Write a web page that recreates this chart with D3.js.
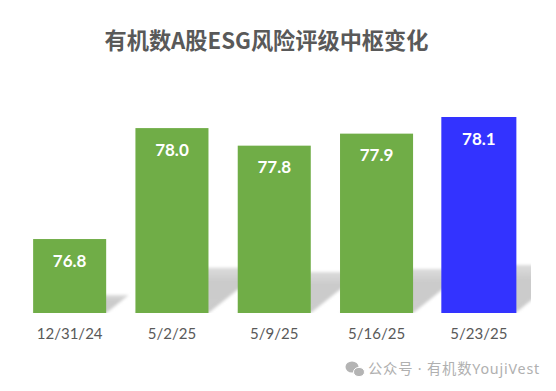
<!DOCTYPE html>
<html><head><meta charset="utf-8">
<script src="https://cdn.jsdelivr.net/npm/d3@7/dist/d3.min.js"></script>
<style>html,body{margin:0;padding:0;background:#fff}svg{display:block}</style>
</head><body><div id="c"></div>
<script>
const categories = ["12/31/24","5/2/25","5/9/25","5/16/25","5/23/25"];
const values = [76.8, 78.0, 77.81, 77.94, 78.12];
const highlighted = ["5/23/25"];
const chartTitle = "有机数A股ESG风险评级中枢变化";
const watermark = "公众号 · 有机数YoujiVest";

const W=556,H=391, base=313;
const x=d3.scaleBand().domain(categories).range([18.5,530]).paddingInner(0.286).paddingOuter(0.143);
const y=d3.scaleLinear().domain([76,78.12]).range([base,117]);
const svg=d3.select("#c").append("svg").attr("width",W).attr("height",H).attr("viewBox",`0 0 ${W} ${H}`);
svg.append("rect").attr("width",W).attr("height",H).attr("fill","#fff");
const defs=svg.append("defs");
const f=defs.append("filter").attr("id","blur").attr("x","-20%").attr("y","-20%").attr("width","140%").attr("height","140%");
f.append("feGaussianBlur").attr("stdDeviation",1.5);
defs.append("clipPath").attr("id","clipS").append("rect").attr("x",0).attr("y",0).attr("width",531).attr("height",base).attr("rx",4);
const g=defs.append("linearGradient").attr("id","sg").attr("x1",0).attr("y1",0).attr("x2",0).attr("y2",1);
g.append("stop").attr("offset","0").attr("stop-color","#dcdcdc");
g.append("stop").attr("offset","0.3").attr("stop-color","#cbcbcb");
g.append("stop").attr("offset","1").attr("stop-color","#cccccc");

svg.append("text").attr("x",266.5).attr("y",48.5).attr("text-anchor","middle")
 .attr("font-family","'Noto Sans CJK SC'").attr("font-weight",700).attr("font-size",22.2)
 .attr("fill","#595959").text(chartTitle);

const shadowLayer=svg.append("g").attr("clip-path","url(#clipS)");
shadowLayer.selectAll("path").data(categories).join("path")
 .attr("filter","url(#blur)").attr("fill","url(#sg)")
 .attr("d",(c,i)=>{
   const h=base-y(values[i]), sh=h*0.245, dx=sh*1.25, l=x(c), r=l+x.bandwidth();
   return `M${l},${base}L${r},${base}L${r+dx},${base-sh}L${l+dx},${base-sh}Z`;
 });

svg.selectAll("rect.bar").data(categories).join("rect").attr("class","bar")
 .attr("x",c=>x(c)-(highlighted.includes(c)?1:0))
 .attr("width",c=>x.bandwidth()+(highlighted.includes(c)?2:0))
 .attr("y",(c,i)=>y(values[i])).attr("height",(c,i)=>base-y(values[i]))
 .attr("fill",c=>highlighted.includes(c)?"#3333ff":"#70ad47");

svg.selectAll("text.val").data(categories).join("text").attr("class","val")
 .attr("x",c=>x(c)+x.bandwidth()/2).attr("y",(c,i)=>y(values[i])+27.5)
 .attr("text-anchor","middle").attr("font-family","Lato").attr("font-weight",700).attr("font-size",17)
 .attr("fill","#fff").text((c,i)=>d3.format(".1f")(values[i]));

const axis=svg.append("g").attr("transform",`translate(0,${base})`)
 .call(d3.axisBottom(x).tickSize(0).tickPadding(15));
axis.select(".domain").remove();
axis.selectAll("text").attr("font-family","Lato").attr("font-size",15).attr("fill","#595959");

const wm=svg.append("g").attr("fill","#b4b4b4");
wm.append("ellipse").attr("cx",352).attr("cy",367).attr("rx",6.5).attr("ry",5.5);
wm.append("ellipse").attr("cx",359).attr("cy",372).attr("rx",5.5).attr("ry",4.6).attr("stroke","#fff").attr("stroke-width",1);
wm.append("text").attr("x",368).attr("y",374).attr("font-family","'Noto Sans','Noto Sans CJK SC'").attr("font-size",14.3).attr("letter-spacing",0.8).attr("fill","#b0b0b0").text(watermark);
</script></body></html>
